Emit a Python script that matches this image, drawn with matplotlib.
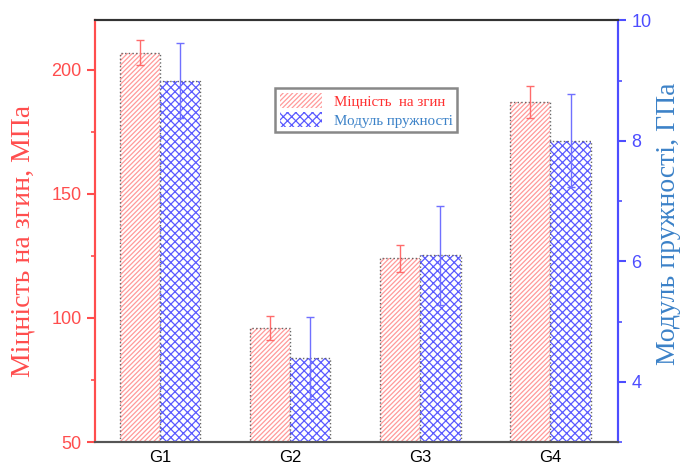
import matplotlib.pyplot as plt
import numpy as np
from matplotlib.ticker import MultipleLocator

groups = ['G1', 'G2', 'G3', 'G4']
strength = [207, 96, 124, 187]
strength_err = [5, 5, 5.5, 6.5]
modulus = [9.0, 4.4, 6.1, 8.0]
modulus_err = [0.62, 0.68, 0.82, 0.77]

red = '#ff4d4d'
blue = '#4d4dff'
serif = ['Liberation Serif', 'DejaVu Serif']
sans = ['Liberation Sans', 'DejaVu Sans']

plt.rcParams['hatch.linewidth'] = 0.9
fig = plt.figure(figsize=(6.81, 4.67), dpi=100)
ax = fig.add_axes([0.1395, 0.0535, 0.768, 0.903])
ax2 = ax.twinx()

x = np.arange(1, len(groups) + 1)
w = 0.31

b1 = ax.bar(x - w / 2, strength, w, color='white', edgecolor='#ff9a9a', hatch='///////', linewidth=0)
ax.bar(x - w / 2, strength, w, fill=False, edgecolor='#666666', linewidth=1.0, linestyle=':')
ax.errorbar(x - w / 2, strength, yerr=strength_err, fmt='none', ecolor='#ff6b6b', elinewidth=1, capsize=3)

b2 = ax2.bar(x + w / 2, modulus, w, color='white', edgecolor='#5a5aff', hatch='xxxx', linewidth=0)
ax2.bar(x + w / 2, modulus, w, fill=False, edgecolor='#666666', linewidth=1.0, linestyle=':')
ax2.errorbar(x + w / 2, modulus, yerr=modulus_err, fmt='none', ecolor='#7070ff', elinewidth=1, capsize=3)

ax.set_xlim(0.5, 4.52)
ax.set_ylim(50, 220)
ax2.set_ylim(3, 10)
ax.set_xticks(x)
ax.set_xticklabels(groups, fontfamily=sans, fontsize=12)
ax.tick_params(axis='x', length=0, pad=6)

ax.yaxis.set_major_locator(MultipleLocator(50))
ax.yaxis.set_minor_locator(MultipleLocator(25))
ax2.yaxis.set_major_locator(MultipleLocator(2))
ax2.yaxis.set_minor_locator(MultipleLocator(1))
ax.tick_params(axis='y', which='major', colors=red, length=6, width=1.5, labelsize=13)
ax.tick_params(axis='y', which='minor', colors=red, length=3, width=1.2)
ax2.tick_params(axis='y', which='major', colors=blue, length=6, width=1.5, labelsize=13)
ax2.tick_params(axis='y', which='minor', colors=blue, length=3, width=1.2)
for t in ax.get_yticklabels() + ax2.get_yticklabels():
    t.set_fontfamily(sans)

for a in (ax, ax2):
    a.spines['left'].set_color(red)
    a.spines['right'].set_color(blue)
    a.spines['top'].set_color('#333333')
    a.spines['bottom'].set_color('#555555')
    for s in a.spines.values():
        s.set_linewidth(1.5)

# axis titles placed directly so the right one is not clipped
fig.text(0.034, 0.484, 'Міцність на згин, МПа', color=red, family=serif, fontsize=20,
         rotation=90, ha='center', va='center')
fig.text(0.982, 0.52, 'Модуль пружності, ГПа', color='#3c82c8', family=serif, fontsize=20,
         rotation=90, ha='center', va='center')

leg = ax.legend([b1, b2], ['Міцність  на згин', 'Модуль пружності'], loc='upper left',
                bbox_to_anchor=(0.33, 0.857), prop={'family': serif, 'size': 10.8},
                fancybox=False, edgecolor='#888888', framealpha=1,
                handlelength=2.8, handleheight=1.25, borderpad=0.3, labelspacing=0.2,
                handletextpad=0.8)
leg.get_frame().set_linewidth(1.8)
leg.get_texts()[0].set_color('#ff3030')
leg.get_texts()[1].set_color('#3c82c8')

fig.savefig('out.png', dpi=100)
